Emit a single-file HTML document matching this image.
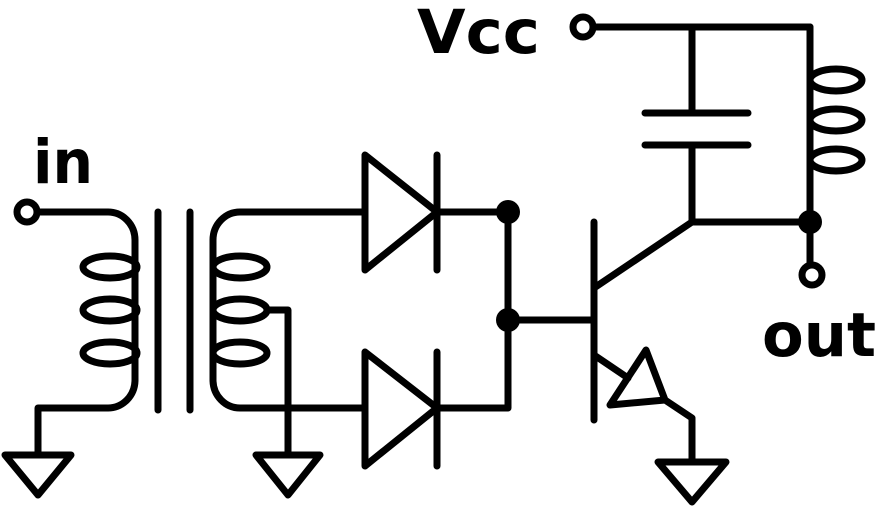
<!DOCTYPE html>
<html><head><style>body{margin:0;background:#fff}svg{display:block}</style></head><body>
<svg width="878" height="512" viewBox="0 0 878 512" xmlns="http://www.w3.org/2000/svg">
<g fill="none" stroke="#000" stroke-width="7" stroke-linecap="round" stroke-linejoin="round">
<!-- primary -->
<circle cx="27" cy="212" r="10" fill="#fff"/>
<path d="M37 212 H108 A27 28 0 0 1 135 240 V380 A27 28 0 0 1 108 408 H38 V455"/>
<ellipse cx="110" cy="267" rx="27" ry="11"/>
<ellipse cx="110" cy="310" rx="27" ry="11"/>
<ellipse cx="110" cy="353" rx="27" ry="11"/>
<path d="M5 455 H71 L38 495 Z"/>
<!-- core -->
<path d="M158 212 V410 M190 212 V410"/>
<!-- secondary -->
<path d="M365 212 H240 A27 28 0 0 0 213 240 V380 A27 28 0 0 0 240 408 H365"/>
<ellipse cx="240" cy="267" rx="27" ry="11"/>
<ellipse cx="240" cy="310" rx="27" ry="11"/>
<ellipse cx="240" cy="353" rx="27" ry="11"/>
<path d="M267 310 H288 V455"/>
<path d="M256 455 H320 L288 495 Z"/>
<!-- diodes -->
<path d="M365 155 V270 L437 212 Z M437 155 V270 M437 212 H508 V408 H437"/>
<path d="M365 352 V466 L437 408 Z M437 352 V466"/>
<path d="M508 320 H594"/>
<!-- transistor -->
<path d="M594 222 V420 M594 288 L692 222 H810 M594 355 L628 378"/>
<path d="M610 405 L646 350 L665 400 Z M665 400 L692 418 V462"/>
<path d="M658 462 H726 L692 502 Z"/>
<!-- cap & vcc -->
<circle cx="583" cy="27" r="10" fill="#fff"/>
<path d="M593 27 H810 M692 27 V113 M645 113 H748 M645 145 H748 M692 145 V222"/>
<path d="M810 27 V222 V265"/>
<ellipse cx="836" cy="80" rx="26" ry="11"/>
<ellipse cx="836" cy="120" rx="26" ry="11"/>
<ellipse cx="836" cy="160" rx="26" ry="11"/>
<circle cx="812" cy="275" r="10" fill="#fff"/>
</g>
<g fill="#000">
<circle cx="508" cy="212" r="12"/>
<circle cx="508" cy="320" r="12"/>
<circle cx="810" cy="222" r="12"/>
</g>
<g font-family="'DejaVu Sans','Liberation Sans',sans-serif" font-weight="bold" font-size="61" fill="#000">
<text x="417" y="53" textLength="123" lengthAdjust="spacingAndGlyphs">Vcc</text>
<text x="33" y="183" textLength="60" lengthAdjust="spacingAndGlyphs">in</text>
<text x="762" y="356" textLength="114" lengthAdjust="spacingAndGlyphs">out</text>
</g>
</svg>
</body></html>
